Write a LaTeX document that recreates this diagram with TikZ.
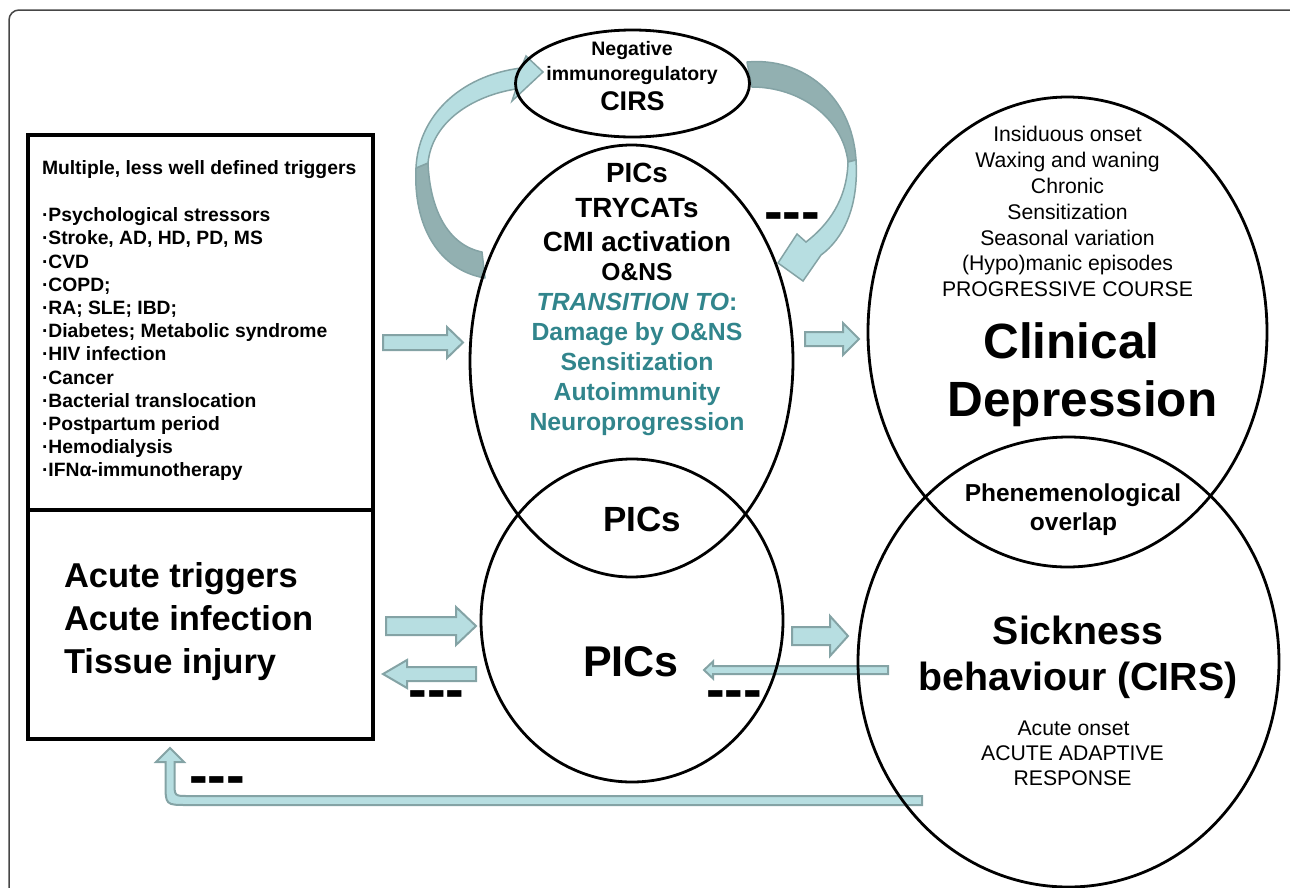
\documentclass[tikz,border=0pt]{standalone}
\usepackage{fontspec}
\setmainfont{Liberation Sans}
\newfontfamily\plainfont{Liberation Sans}
\usetikzlibrary{calc,shapes.geometric}
\definecolor{arrfill}{RGB}{183,222,225}
\definecolor{arrdark}{RGB}{146,176,177}
\definecolor{arredge}{RGB}{132,163,165}
\definecolor{tealtxt}{RGB}{49,133,140}
\definecolor{framegray}{RGB}{70,70,70}
\newcommand\fsz[1]{\fontsize{#1}{#1}\selectfont}
\newcommand\blockarr[5]{%
  \draw[blockarrow] let \p1=(#1), \p2=(#2) in
  ({\x1},{\y1+#3pt}) -- ({\x2-(#5pt)},{\y1+#3pt}) -- ({\x2-(#5pt)},{\y1+#4pt}) -- (\x2,\y1)
  -- ({\x2-(#5pt)},{\y1-#4pt}) -- ({\x2-(#5pt)},{\y1-#3pt}) -- ({\x1},{\y1-#3pt}) -- cycle;}
\begin{document}
\begin{tikzpicture}[x=1pt,y=-1pt,
  txt/.style={inner sep=0pt, outer sep=0pt, anchor=base},
  ell/.style={ellipse, draw=black, line width=2.8pt, inner sep=0pt},
  boxst/.style={rectangle, draw=black, line width=4pt, inner sep=0pt},
  blockarrow/.style={fill=arrfill, draw=arredge, line width=2pt, line join=miter},
  curvedark/.style={fill=arrdark, draw=arredge, line width=1.5pt, line join=round},
  curvelight/.style={fill=arrfill, draw=arredge, line width=1.5pt, line join=miter},
  dashmark/.style={txt, font=\plainfont\bfseries\fsz{56}}]
\useasboundingbox (0,0) rectangle (1290,887);
\begin{scope}
\clip (0,0) rectangle (1290,887);
\draw[framegray, line width=1.5pt, rounded corners=10pt] (9,10) rectangle (1305,905);
\end{scope}

% curved arrows (drawn below the ellipses)
\draw[curvedark] (485,278) .. controls (438,270) and (413,225) .. (416,168) -- (428,163) .. controls (430,210) and (448,245) .. (482,252) -- cycle;
\draw[curvelight] (416,168) .. controls (418,118) and (458,76) .. (521,68) -- (526,56) -- (543,72) -- (512,101) -- (516,89) .. controls (472,96) and (432,122) .. (428,163) -- cycle;
\draw[curvedark] (747,62) .. controls (802,57) and (852,95) .. (856,160) -- (848,162) .. controls (843,118) and (800,87) .. (752,87) -- cycle;
\draw[curvelight] (856,160) .. controls (859,207) and (843,239) .. (821,255) -- (803,281) -- (778,263) -- (797,234) -- (806,242) .. controls (828,225) and (847,200) .. (848,162) -- cycle;

% left boxes
\node[boxst, minimum width=345pt, minimum height=375pt] (boxup) at (200.5,322.5) {};
\node[boxst, minimum width=345pt, minimum height=229pt] (boxlow) at (200.5,624.5) {};

% block arrows
\coordinate (a1s) at (383,342.5); \coordinate (a1e) at (463,342.5);
\coordinate (a2s) at (805,339);   \coordinate (a2e) at (859,339);
\coordinate (a3s) at (386,626);   \coordinate (a3e) at (476,626);
\coordinate (a4s) at (476,674);   \coordinate (a4e) at (383,674);
\coordinate (a5s) at (792,636);   \coordinate (a5e) at (848,636);
\coordinate (a6s) at (888,670);   \coordinate (a6e) at (704,670);
\blockarr{a1s}{a1e}{7.5}{15.5}{16}
\blockarr{a2s}{a2e}{7}{16}{16}
\blockarr{a3s}{a3e}{9}{19}{20}
\blockarr{a4s}{a4e}{7}{14}{-24}
\blockarr{a5s}{a5e}{9}{20}{18}
\blockarr{a6s}{a6e}{4}{8.5}{-9}
% bent return arrow
\coordinate (a7s) at (922,800.5);
\coordinate (a7e) at (170,748);
\draw[blockarrow] (922,796) -- (188,796) .. controls (174.5,796) .. (174.5,782) -- (174.5,762) -- (184,762) -- (170,748) -- (156,762) -- (165.5,762) -- (165.5,783) .. controls (165.5,805) .. (187.5,805) -- (922,805) -- cycle;

% ellipses
\node[ell, minimum width=234pt, minimum height=107pt] (neg) at (632.5,83.5) {};
\node[ell, minimum width=323pt, minimum height=432pt] (upper) at (631.5,361) {};
\node[ell, minimum width=302pt, minimum height=323pt] (lowc) at (632,620.5) {};
\node[ell, minimum width=399pt, minimum height=470pt] (clin) at (1067.5,332) {};
\node[ell, minimum width=421pt, minimum height=450pt] (sick) at (1068.5,662) {};

% texts: negative immunoregulatory
\node[txt, font=\bfseries\fsz{19.5}] (ng1) at (632,55) {Negative};
\node[txt, font=\bfseries\fsz{19.5}] (ng2) at (632,80) {immunoregulatory};
\node[txt, font=\bfseries\fsz{27}] (ng3) at (632.5,110.7) {CIRS};

% upper ellipse
\node[txt, font=\bfseries\fsz{27.8}] (u1) at (637,182) {PICs};
\node[txt, font=\bfseries\fsz{27.8}] (u2) at (637,217) {TRYCATs};
\node[txt, font=\bfseries\fsz{27.8}] (u3) at (637,251) {CMI activation};
\node[txt, font=\bfseries\fsz{24.6}] (u4) at (637,280.7) {O\&NS};
\node[txt, font=\bfseries\fsz{24.8}, text=tealtxt] (u5) at (637,310.5) {\textit{TRANSITION TO}:};
\node[txt, font=\bfseries\fsz{24.8}, text=tealtxt] (u6) at (637,340.5) {Damage by O\&NS};
\node[txt, font=\bfseries\fsz{24.8}, text=tealtxt] (u7) at (637,370.7) {Sensitization};
\node[txt, font=\bfseries\fsz{24.8}, text=tealtxt] (u8) at (637,400.7) {Autoimmunity};
\node[txt, font=\bfseries\fsz{24.8}, text=tealtxt] (u9) at (637,430.7) {Neuroprogression};

% lens and lower circle
\node[txt, font=\bfseries\fsz{35}] (lens) at (642,531.7) {PICs};
\node[txt, font=\bfseries\fsz{43}] (lowpics) at (631,676.7) {PICs};

% clinical depression
\foreach \t [count=\i] in {Insiduous onset, Waxing and waning, Chronic, Sensitization, Seasonal variation, (Hypo)manic episodes, PROGRESSIVE COURSE}
  \node[txt, font=\fsz{21.2}] (cd\i) at (1067.5,{141.7+(\i-1)*25.83}) {\t};
\node[txt, font=\bfseries\fsz{49.5}] (clin1) at (1071.5,358) {Clinical};
\node[txt, font=\bfseries\fsz{49.5}] (clin2) at (1082.5,416.7) {Depression};
\node[txt, font=\bfseries\fsz{24.5}] (ov1) at (1073,501.7) {Phenemenological};
\node[txt, font=\bfseries\fsz{24.5}] (ov2) at (1073.5,530) {overlap};

% sickness behaviour
\node[txt, font=\bfseries\fsz{39.3}] (sb1) at (1078,644) {Sickness};
\node[txt, font=\bfseries\fsz{39.3}] (sb2) at (1078,690.7) {behaviour (CIRS)};
\node[txt, font=\fsz{21.2}] (sb3) at (1073.5,735) {Acute onset};
\node[txt, font=\fsz{21.2}] (sb4) at (1072.5,760) {ACUTE ADAPTIVE};
\node[txt, font=\fsz{21.2}] (sb5) at (1072.5,785) {RESPONSE};

% left box texts
\node[txt, anchor=base west, font=\bfseries\fsz{19.3}] (lt0) at (42,174.3) {Multiple, less well defined triggers};
\foreach \t [count=\i] in {Psychological stressors, {Stroke, AD, HD, PD, MS}, CVD, COPD;, {RA; SLE; IBD;}, {Diabetes; Metabolic syndrome}, HIV infection, Cancer, Bacterial translocation, Postpartum period, Hemodialysis, IFNα-immunotherapy}
  \node[txt, anchor=base west, font=\bfseries\fsz{19.3}] (lt\i) at (42,{221.7+(\i-1)*23.2}) {·\t};
\node[txt, anchor=base west, font=\bfseries\fsz{34.5}] (at1) at (64,587) {Acute triggers};
\node[txt, anchor=base west, font=\bfseries\fsz{34.5}] (at2) at (64,630) {Acute infection};
\node[txt, anchor=base west, font=\bfseries\fsz{34.5}] (at3) at (64,673) {Tissue injury};

% inhibition marks
\node[dashmark] (d1) at (792,230.8) {-\kern0pt-\kern0pt-};
\node[dashmark] (d2) at (436.5,708.8) {-\kern0pt-\kern0pt-};
\node[dashmark] (d3) at (734,708.8) {-\kern0pt-\kern0pt-};
\node[dashmark] (d4) at (217,794.8) {-\kern0pt-\kern0pt-};
\end{tikzpicture}
\end{document}
